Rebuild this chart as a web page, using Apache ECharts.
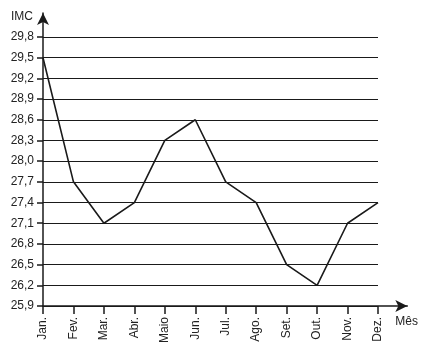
<!DOCTYPE html>
<html><head><meta charset="utf-8">
<script src="https://cdn.jsdelivr.net/npm/echarts@6/dist/echarts.min.js"></script>
<style>html,body{margin:0;padding:0;background:#fff}#c{width:421px;height:356px}</style>
</head><body><div id="c"></div>
<script>
const months = ['Jan.','Fev.','Mar.','Abr.','Maio','Jun.','Jul.','Ago.','Set.','Out.','Nov.','Dez.'];
const imc = [29.5, 27.7, 27.1, 27.4, 28.3, 28.6, 27.7, 27.4, 26.5, 26.2, 27.1, 27.4];
const yMin = 25.9, yMax = 29.8, yStep = 0.3;
const yTitle = 'IMC', xTitle = 'Mês';

const ink = '#1a1a1a';
const font = 'Liberation Sans, Arial, sans-serif';
const chart = echarts.init(document.getElementById('c'));
chart.setOption({
  animation: false,
  backgroundColor: '#fff',
  grid: [
    {left: 43, right: 43, top: 37, bottom: 50},
    {left: 43, right: 13, top: 13, bottom: 50}
  ],
  xAxis: [
    {gridIndex: 0, type: 'category', data: months, boundaryGap: false,
     axisLine: {show: false},
     axisTick: {show: true, length: 8, lineStyle: {color: ink, width: 1.5}},
     axisLabel: {rotate: 90, margin: 11, color: '#222', fontSize: 12, fontFamily: font},
     splitLine: {show: false}},
    {gridIndex: 1, type: 'value', min: 0, max: 1,
     axisLine: {show: true, symbol: ['none', 'arrow'], symbolSize: [9, 12], symbolOffset: [0, 0], lineStyle: {color: ink, width: 1.5}},
     axisTick: {show: false}, axisLabel: {show: false}, splitLine: {show: false},
     name: xTitle, nameLocation: 'end', nameGap: -12,
     nameTextStyle: {color: '#222', fontSize: 12, fontFamily: font, align: 'left', verticalAlign: 'top', padding: [10, 0, 0, 0]}}
  ],
  yAxis: [
    {gridIndex: 0, type: 'value', min: 0, max: +(yMax - yMin).toFixed(1), interval: yStep,
     axisLine: {show: false},
     axisTick: {show: true, length: 6, lineStyle: {color: ink, width: 1.5}},
     axisLabel: {margin: 9, color: '#222', fontSize: 12, fontFamily: font,
       formatter: v => (yMin + v).toFixed(1).replace('.', ',')},
     splitLine: {show: true, lineStyle: {color: ink, width: 1.2}}},
    {gridIndex: 1, type: 'value', min: 0, max: 1,
     axisLine: {show: true, symbol: ['none', 'arrow'], symbolSize: [9, 12], lineStyle: {color: ink, width: 1.5}},
     axisTick: {show: false}, axisLabel: {show: false}, splitLine: {show: false},
     name: yTitle, nameLocation: 'end', nameGap: -4,
     nameTextStyle: {color: '#222', fontSize: 12, fontFamily: font, align: 'right', verticalAlign: 'middle', padding: [0, 10, 0, 0]}}
  ],
  series: [{
    type: 'line', xAxisIndex: 0, yAxisIndex: 0,
    data: imc.map(v => +(v - yMin).toFixed(2)),
    showSymbol: false, symbol: 'none',
    lineStyle: {color: ink, width: 1.6}
  }]
});
</script></body></html>
